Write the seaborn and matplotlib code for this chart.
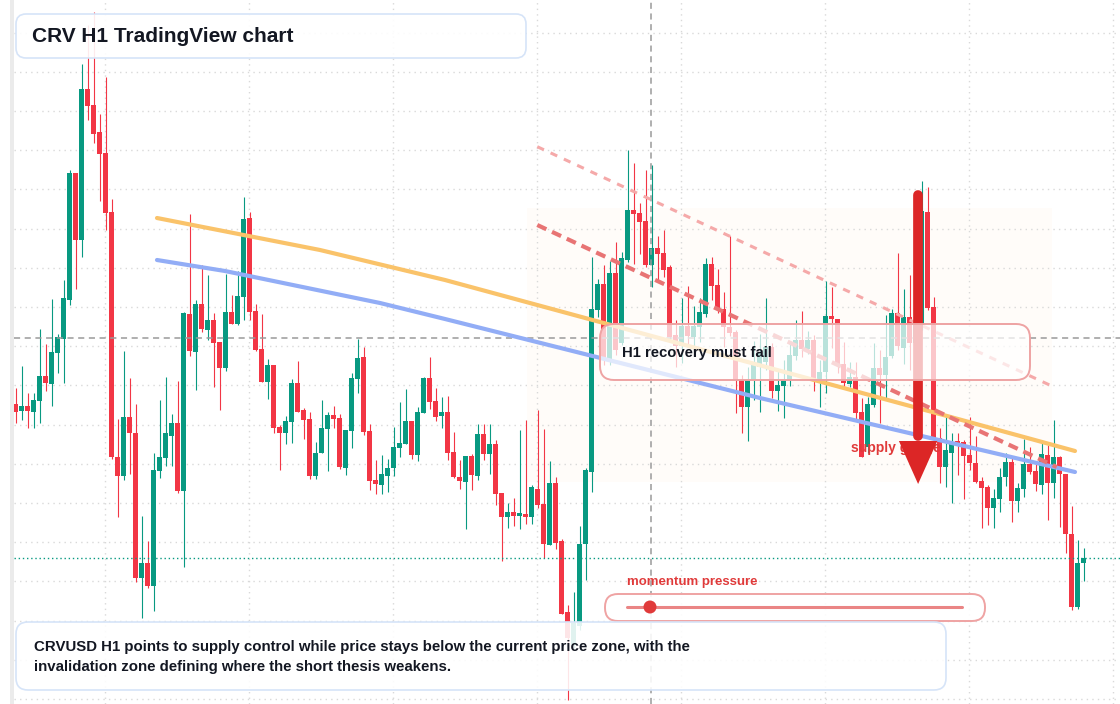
import numpy as np
import pandas as pd
import seaborn as sns
import matplotlib.pyplot as plt
from matplotlib.patches import FancyBboxPatch, Rectangle, Circle
from matplotlib.lines import Line2D
from matplotlib.transforms import IdentityTransform

# CRV H1 candles (price)
open_ = [0.2596, 0.2589, 0.2594, 0.2588, 0.2599, 0.2624, 0.2616, 0.2647, 0.2661, 0.2700,
         0.2827, 0.2760, 0.2911, 0.2895, 0.2868, 0.2847, 0.2788, 0.2543, 0.2524, 0.2583,
         0.2567, 0.2422, 0.2437, 0.2414, 0.2529, 0.2542, 0.2564, 0.2577, 0.2509, 0.2686,
         0.2648, 0.2696, 0.2670, 0.2680, 0.2658, 0.2632, 0.2688, 0.2676, 0.2703, 0.2782,
         0.2689, 0.2651, 0.2618, 0.2635, 0.2573, 0.2567, 0.2578, 0.2617, 0.2590, 0.2581,
         0.2524, 0.2547, 0.2571, 0.2585, 0.2582, 0.2532, 0.2569, 0.2621, 0.2643, 0.2569,
         0.2520, 0.2515, 0.2524, 0.2532, 0.2552, 0.2556, 0.2579, 0.2545, 0.2587, 0.2622,
         0.2599, 0.2584, 0.2588, 0.2548, 0.2523, 0.2518, 0.2544, 0.2524, 0.2566, 0.2546,
         0.2556, 0.2507, 0.2483, 0.2488, 0.2484, 0.2486, 0.2483, 0.2511, 0.2496, 0.2455,
         0.2517, 0.2459, 0.2388, 0.2355, 0.2374, 0.2456, 0.2528, 0.2690, 0.2716, 0.2639,
         0.2727, 0.2657, 0.2740, 0.2790, 0.2787, 0.2779, 0.2735, 0.2752, 0.2747, 0.2733,
         0.2665, 0.2654, 0.2674, 0.2663, 0.2673, 0.2686, 0.2736, 0.2715, 0.2691, 0.2673,
         0.2668, 0.2620, 0.2593, 0.2620, 0.2633, 0.2638, 0.2653, 0.2609, 0.2614, 0.2620,
         0.2644, 0.2660, 0.2651, 0.2660, 0.2620, 0.2628, 0.2684, 0.2681, 0.2636, 0.2616,
         0.2623, 0.2588, 0.2553, 0.2595, 0.2632, 0.2625, 0.2644, 0.2687, 0.2652, 0.2683,
         0.2657, 0.2675, 0.2788, 0.2693, 0.2562, 0.2533, 0.2547, 0.2559, 0.2558, 0.2545,
         0.2537, 0.2519, 0.2513, 0.2492, 0.2501, 0.2523, 0.2538, 0.2499, 0.2511, 0.2536,
         0.2529, 0.2515, 0.2545, 0.2517, 0.2543, 0.2526, 0.2466, 0.2393, 0.2437]
high = [0.2612, 0.2634, 0.2607, 0.2607, 0.2671, 0.2656, 0.2701, 0.2666, 0.2720, 0.2830,
        0.2827, 0.2936, 0.2975, 0.2988, 0.2886, 0.2923, 0.2801, 0.2581, 0.2649, 0.2622,
        0.2596, 0.2484, 0.2459, 0.2547, 0.2600, 0.2623, 0.2586, 0.2619, 0.2688, 0.2786,
        0.2700, 0.2735, 0.2725, 0.2687, 0.2658, 0.2726, 0.2705, 0.2729, 0.2803, 0.2788,
        0.2696, 0.2686, 0.2641, 0.2635, 0.2575, 0.2584, 0.2621, 0.2639, 0.2592, 0.2588,
        0.2558, 0.2600, 0.2588, 0.2594, 0.2586, 0.2570, 0.2627, 0.2661, 0.2653, 0.2576,
        0.2540, 0.2545, 0.2541, 0.2573, 0.2598, 0.2611, 0.2579, 0.2593, 0.2623, 0.2643,
        0.2612, 0.2603, 0.2604, 0.2568, 0.2540, 0.2544, 0.2546, 0.2576, 0.2576, 0.2576,
        0.2560, 0.2507, 0.2497, 0.2502, 0.2570, 0.2580, 0.2515, 0.2590, 0.2571, 0.2539,
        0.2523, 0.2461, 0.2395, 0.2408, 0.2474, 0.2532, 0.2743, 0.2721, 0.2735, 0.2739,
        0.2758, 0.2748, 0.2850, 0.2837, 0.2797, 0.2830, 0.2835, 0.2764, 0.2770, 0.2735,
        0.2680, 0.2702, 0.2714, 0.2694, 0.2702, 0.2742, 0.2743, 0.2731, 0.2708, 0.2764,
        0.2670, 0.2625, 0.2633, 0.2659, 0.2666, 0.2702, 0.2657, 0.2630, 0.2640, 0.2657,
        0.2680, 0.2689, 0.2669, 0.2665, 0.2640, 0.2719, 0.2713, 0.2681, 0.2658, 0.2638,
        0.2638, 0.2602, 0.2603, 0.2657, 0.2650, 0.2685, 0.2691, 0.2747, 0.2711, 0.2725,
        0.2700, 0.2819, 0.2813, 0.2703, 0.2572, 0.2585, 0.2567, 0.2567, 0.2560, 0.2583,
        0.2564, 0.2523, 0.2515, 0.2511, 0.2532, 0.2547, 0.2543, 0.2517, 0.2561, 0.2553,
        0.2538, 0.2560, 0.2555, 0.2580, 0.2544, 0.2526, 0.2494, 0.2460, 0.2452]
low = [0.2577, 0.2580, 0.2572, 0.2572, 0.2577, 0.2609, 0.2594, 0.2627, 0.2617, 0.2695,
       0.2711, 0.2743, 0.2880, 0.2857, 0.2799, 0.2770, 0.2541, 0.2483, 0.2520, 0.2526,
       0.2418, 0.2382, 0.2412, 0.2389, 0.2522, 0.2534, 0.2534, 0.2507, 0.2433, 0.2644,
       0.2610, 0.2668, 0.2660, 0.2613, 0.2590, 0.2629, 0.2676, 0.2675, 0.2680, 0.2680,
       0.2649, 0.2618, 0.2601, 0.2567, 0.2530, 0.2556, 0.2557, 0.2588, 0.2561, 0.2521,
       0.2521, 0.2547, 0.2529, 0.2572, 0.2531, 0.2525, 0.2552, 0.2607, 0.2565, 0.2510,
       0.2506, 0.2506, 0.2508, 0.2524, 0.2543, 0.2556, 0.2541, 0.2539, 0.2587, 0.2591,
       0.2579, 0.2572, 0.2540, 0.2522, 0.2511, 0.2471, 0.2510, 0.2520, 0.2540, 0.2526,
       0.2495, 0.2439, 0.2472, 0.2474, 0.2471, 0.2476, 0.2476, 0.2492, 0.2442, 0.2455,
       0.2451, 0.2386, 0.2300, 0.2352, 0.2370, 0.2420, 0.2508, 0.2683, 0.2635, 0.2635,
       0.2645, 0.2655, 0.2738, 0.2736, 0.2746, 0.2733, 0.2713, 0.2718, 0.2723, 0.2660,
       0.2633, 0.2637, 0.2654, 0.2649, 0.2658, 0.2683, 0.2700, 0.2687, 0.2653, 0.2664,
       0.2587, 0.2567, 0.2559, 0.2600, 0.2588, 0.2630, 0.2602, 0.2589, 0.2582, 0.2614,
       0.2640, 0.2643, 0.2646, 0.2609, 0.2593, 0.2607, 0.2652, 0.2627, 0.2612, 0.2613,
       0.2580, 0.2543, 0.2547, 0.2593, 0.2577, 0.2602, 0.2642, 0.2650, 0.2636, 0.2630,
       0.2650, 0.2670, 0.2690, 0.2555, 0.2517, 0.2513, 0.2497, 0.2525, 0.2501, 0.2530,
       0.2517, 0.2472, 0.2475, 0.2472, 0.2488, 0.2514, 0.2478, 0.2488, 0.2503, 0.2526,
       0.2509, 0.2506, 0.2480, 0.2502, 0.2473, 0.2447, 0.2390, 0.2391, 0.2419]
close = [0.2588, 0.2594, 0.2589, 0.2600, 0.2624, 0.2617, 0.2648, 0.2663, 0.2702, 0.2827,
         0.2760, 0.2911, 0.2894, 0.2866, 0.2846, 0.2787, 0.2543, 0.2524, 0.2583, 0.2567,
         0.2422, 0.2437, 0.2414, 0.2530, 0.2543, 0.2567, 0.2577, 0.2509, 0.2687, 0.2649,
         0.2696, 0.2671, 0.2680, 0.2657, 0.2632, 0.2688, 0.2676, 0.2704, 0.2781, 0.2688,
         0.2650, 0.2618, 0.2635, 0.2572, 0.2567, 0.2579, 0.2617, 0.2588, 0.2580, 0.2524,
         0.2547, 0.2572, 0.2585, 0.2581, 0.2533, 0.2570, 0.2622, 0.2642, 0.2568, 0.2519,
         0.2516, 0.2526, 0.2532, 0.2553, 0.2557, 0.2579, 0.2545, 0.2588, 0.2622, 0.2598,
         0.2583, 0.2588, 0.2547, 0.2523, 0.2519, 0.2544, 0.2525, 0.2566, 0.2546, 0.2556,
         0.2506, 0.2483, 0.2488, 0.2484, 0.2487, 0.2483, 0.2513, 0.2495, 0.2456, 0.2517,
         0.2457, 0.2386, 0.2362, 0.2377, 0.2456, 0.2530, 0.2691, 0.2716, 0.2642, 0.2727,
         0.2650, 0.2742, 0.2790, 0.2786, 0.2778, 0.2735, 0.2752, 0.2746, 0.2730, 0.2663,
         0.2654, 0.2674, 0.2664, 0.2674, 0.2688, 0.2736, 0.2714, 0.2690, 0.2673, 0.2667,
         0.2620, 0.2593, 0.2620, 0.2638, 0.2647, 0.2653, 0.2609, 0.2615, 0.2620, 0.2645,
         0.2660, 0.2651, 0.2660, 0.2620, 0.2628, 0.2684, 0.2681, 0.2635, 0.2617, 0.2623,
         0.2587, 0.2543, 0.2596, 0.2632, 0.2625, 0.2643, 0.2687, 0.2654, 0.2683, 0.2657,
         0.2675, 0.2789, 0.2692, 0.2560, 0.2533, 0.2550, 0.2557, 0.2556, 0.2544, 0.2537,
         0.2518, 0.2512, 0.2492, 0.2502, 0.2523, 0.2538, 0.2499, 0.2512, 0.2536, 0.2528,
         0.2516, 0.2546, 0.2517, 0.2543, 0.2526, 0.2466, 0.2393, 0.2437, 0.2442]

# drawn levels (candle index, price)
orange_idx = [23.55, 50.72, 71.55, 97.38, 155.22, 176.55]
orange_px = [0.2782, 0.2750, 0.2720, 0.2678, 0.2584, 0.2549]
blue_idx = [23.55, 34.88, 60.72, 71.55, 124.05, 176.55]
blue_px = [0.2740, 0.2729, 0.2697, 0.2681, 0.2602, 0.2528]
upper_idx = [86.93, 172.67]
upper_px = [0.28533, 0.2614]
lower_idx = [86.93, 173.5]
lower_px = [0.2775, 0.2533]
zone_idx = (85.2, 172.7)
zone_px = (0.2518, 0.2792)
cross_px = 0.2662
cross_idx = 105.88
arrow_idx = 150.4
arrow_top, arrow_base, arrow_tip = 0.2805, 0.2559, 0.2516

GREEN = '#089981'
RED = '#f23645'
DARK = '#131722'
W, H = 1120, 704

df = pd.DataFrame({'open': open_, 'high': high, 'low': low, 'close': close})
df['idx'] = np.arange(len(df))
df['up'] = df['close'] >= df['open']
df['color'] = np.where(df['up'], GREEN, RED)
df['body_lo'] = df[['open', 'close']].min(axis=1)
df['body_h'] = (df['close'] - df['open']).abs().clip(lower=0.00012)

sns.set_theme(style='white')
plt.rcParams['font.family'] = ['Liberation Sans', 'DejaVu Sans']

fig = plt.figure(figsize=(W / 100, H / 100), dpi=100)
fig.patch.set_facecolor('white')
fig.add_artist(Rectangle((10, 0), 4, H, transform=IdentityTransform(),
                         facecolor='#ebebeb', edgecolor='none', zorder=0))

ax = fig.add_axes([14 / W, 0, (W - 14) / W, 1])
ax.set_xlim(-0.283, 184.05)
ax.set_ylim(0.2296, 0.3)
ax.set_xticks(np.arange(14.9, 184, 24))
ax.set_yticks(np.arange(0.2301, 0.2975, 0.00392))
ax.grid(True, color='#d9d9d9', linestyle=(0, (1, 3)), linewidth=1)
ax.set_axisbelow(True)
ax.tick_params(length=0, labelleft=False, labelbottom=False)
for s in ax.spines.values():
    s.set_visible(False)

# faint zone
ax.add_patch(Rectangle((zone_idx[0], zone_px[0]), zone_idx[1] - zone_idx[0], zone_px[1] - zone_px[0],
                       facecolor='#fffcf9', edgecolor='none', zorder=0.5))

# candles
ax.vlines(df['idx'], df['low'], df['high'], colors=df['color'], linewidth=0.8, zorder=2)
ax.bar(df['idx'], df['body_h'], bottom=df['body_lo'], width=0.75, color=df['color'],
       linewidth=0, zorder=3)

# crosshair + last price
ax.axhline(cross_px, color='#9a9a9a', lw=1.1, dashes=(4, 3), zorder=3.5)
ax.axvline(cross_idx, color='#9a9a9a', lw=1.1, dashes=(4, 3), zorder=3.5)
ax.axhline(close[-1], color=GREEN, lw=1, linestyle=(0, (1, 2)), zorder=3.5)

# trend lines
sns.lineplot(x=orange_idx, y=orange_px, ax=ax, color='#fac36a', lw=3, zorder=4)
sns.lineplot(x=blue_idx, y=blue_px, ax=ax, color='#92adf6', lw=3, zorder=4)
ax.plot(upper_idx, upper_px, color='#f5a9a9', lw=2.2, dashes=(2.4, 2.4), zorder=4)
ax.plot(lower_idx, lower_px, color='#e87474', lw=3, dashes=(2.4, 1.5), zorder=4)

# supply text + arrow
ax.text(139.2, 0.2552, 'supply gauge', color='#e03a3a', fontsize=10, fontweight='bold',
        va='center', ha='left', zorder=4.5)
ax.plot([arrow_idx, arrow_idx], [arrow_top, arrow_base + 0.0005], color='#dc2626', lw=7,
        solid_capstyle='round', zorder=5)
ax.fill([arrow_idx - 3.2, arrow_idx + 3.2, arrow_idx], [arrow_base, arrow_base, arrow_tip],
        color='#dc2626', zorder=5, lw=0)


def box(x0, y0, x1, y1, r, ec, alpha, lw=1.2):
    p = FancyBboxPatch((x0, H - y1), x1 - x0, y1 - y0,
                       boxstyle=f'round,pad=0,rounding_size={r}',
                       transform=IdentityTransform(), facecolor=(1, 1, 1, alpha),
                       edgecolor=ec, linewidth=lw, zorder=2)
    fig.add_artist(p)


def label(x, y, s, size, color=DARK):
    fig.text(x / W, 1 - y / H, s, fontsize=size, fontweight='bold', color=color,
             va='center', ha='left', zorder=5)


# title
box(16, 14, 526, 58, 10, '#d6e4f8', 0.9)
label(32, 36, 'CRV H1 TradingView chart', 15)

# recovery box
box(600, 324, 1030, 380, 14, '#eea3a3', 0.72, lw=1.4)
label(622, 353, 'H1 recovery must fail', 10.7)

# momentum slider
label(627, 582, 'momentum pressure', 9.5, color='#e03a3a')
box(605, 594, 985, 621, 13, '#efa3a3', 0.9, lw=1.4)
fig.add_artist(Line2D([627, 962], [H - 607, H - 607], transform=IdentityTransform(),
                      color='#ea8585', lw=2.2, zorder=3))
fig.add_artist(Circle((650, H - 607), 6.5, transform=IdentityTransform(),
                      facecolor='#e03a3a', edgecolor='none', zorder=4))

# bottom note
box(16, 622, 946, 690, 12, '#d6e4f8', 0.88)
label(34, 647, 'CRVUSD H1 points to supply control while price stays below the current price zone, with the', 10.8)
label(34, 667, 'invalidation zone defining where the short thesis weakens.', 10.8)

fig.savefig('out.png', dpi=100)
